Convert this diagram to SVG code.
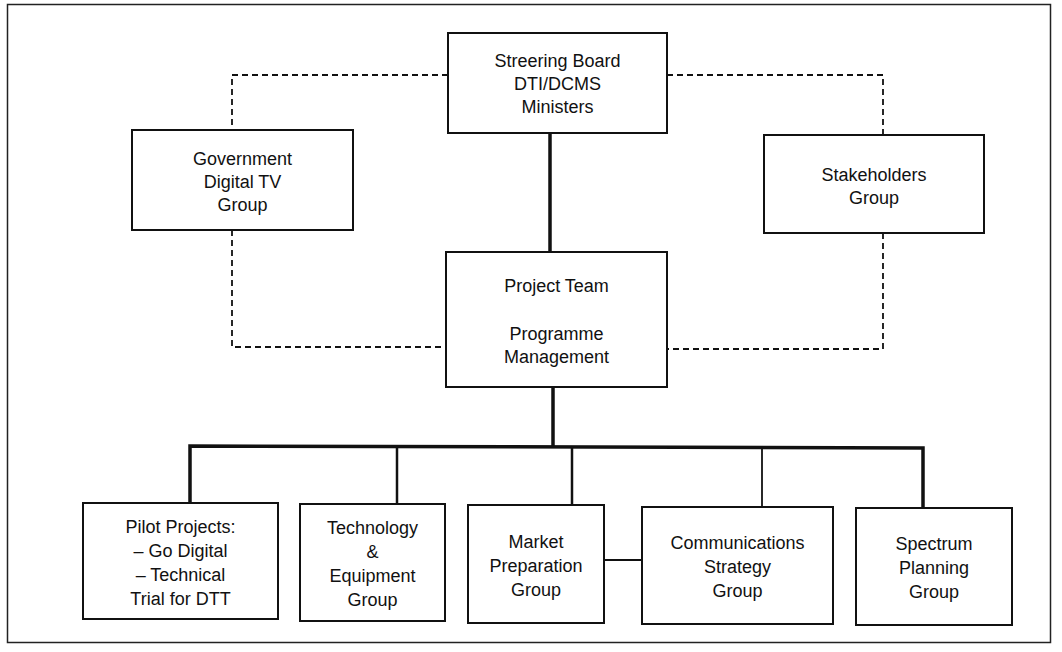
<svg xmlns="http://www.w3.org/2000/svg" width="1062" height="652" viewBox="0 0 1062 652">
<style>
.box{fill:#fff;stroke:#111;stroke-width:2}
.t{font-family:"Liberation Sans",Arial,sans-serif;font-size:18px;fill:#111;text-anchor:middle}
.dash{fill:none;stroke:#111;stroke-width:1.8;stroke-dasharray:6 4}
.thick{fill:none;stroke:#111;stroke-width:3.5}
.med{fill:none;stroke:#111;stroke-width:2.5}
.thin{fill:none;stroke:#111;stroke-width:1.8}
</style>
<rect x="0" y="0" width="1062" height="652" fill="#fff"/>
<rect x="7.5" y="4.5" width="1043" height="638" fill="none" stroke="#222" stroke-width="1.5"/>
<g id="connectors">
<polyline class="dash" points="448,75 232,75 232,130"/>
<polyline class="dash" points="232,230 232,347 446,347"/>
<polyline class="dash" points="667,75 883,75 883,135"/>
<polyline class="dash" points="883,233 883,349 667,349"/>
<line class="thick" x1="550" y1="133" x2="550" y2="252"/>
<line class="thick" x1="553" y1="387" x2="553" y2="447"/>
<polyline class="thick" points="190,503 190,446 923,448 923,508"/>
<line class="med" x1="397" y1="447" x2="397" y2="504"/>
<line class="med" x1="572" y1="447" x2="572" y2="505"/>
<line class="thin" x1="762" y1="447" x2="762" y2="507"/>
<line class="thin" x1="604" y1="560" x2="642" y2="560"/>
</g>
<g id="steering">
<rect class="box" x="448" y="33" width="219" height="100"/>
<text class="t" x="557.5" y="67">Streering Board</text>
<text class="t" x="557.5" y="90">DTI/DCMS</text>
<text class="t" x="557.5" y="113">Ministers</text>
</g>
<g id="government">
<rect class="box" x="132" y="130" width="221" height="100"/>
<text class="t" x="242.5" y="165">Government</text>
<text class="t" x="242.5" y="188">Digital TV</text>
<text class="t" x="242.5" y="211">Group</text>
</g>
<g id="stakeholders">
<rect class="box" x="764" y="135" width="220" height="98"/>
<text class="t" x="874" y="181">Stakeholders</text>
<text class="t" x="874" y="204">Group</text>
</g>
<g id="project">
<rect class="box" x="446" y="252" width="221" height="135"/>
<text class="t" x="556.5" y="292">Project Team</text>
<text class="t" x="556.5" y="340">Programme</text>
<text class="t" x="556.5" y="363">Management</text>
</g>
<g id="pilot">
<rect class="box" x="83" y="503" width="195" height="116" stroke-width="2.5"/>
<text class="t" x="180.5" y="533">Pilot Projects:</text>
<text class="t" x="180.5" y="557">– Go Digital</text>
<text class="t" x="180.5" y="581">– Technical</text>
<text class="t" x="180.5" y="605">Trial for DTT</text>
</g>
<g id="technology">
<rect class="box" x="300" y="504" width="145" height="117"/>
<text class="t" x="372.5" y="534">Technology</text>
<text class="t" x="372.5" y="558">&amp;</text>
<text class="t" x="372.5" y="582">Equipment</text>
<text class="t" x="372.5" y="606">Group</text>
</g>
<g id="market">
<rect class="box" x="468" y="505" width="136" height="118"/>
<text class="t" x="536" y="548">Market</text>
<text class="t" x="536" y="572">Preparation</text>
<text class="t" x="536" y="596">Group</text>
</g>
<g id="communications">
<rect class="box" x="642" y="507" width="191" height="117"/>
<text class="t" x="737.5" y="549">Communications</text>
<text class="t" x="737.5" y="573">Strategy</text>
<text class="t" x="737.5" y="597">Group</text>
</g>
<g id="spectrum">
<rect class="box" x="856" y="508" width="156" height="117"/>
<text class="t" x="934" y="550">Spectrum</text>
<text class="t" x="934" y="574">Planning</text>
<text class="t" x="934" y="598">Group</text>
</g>
</svg>
